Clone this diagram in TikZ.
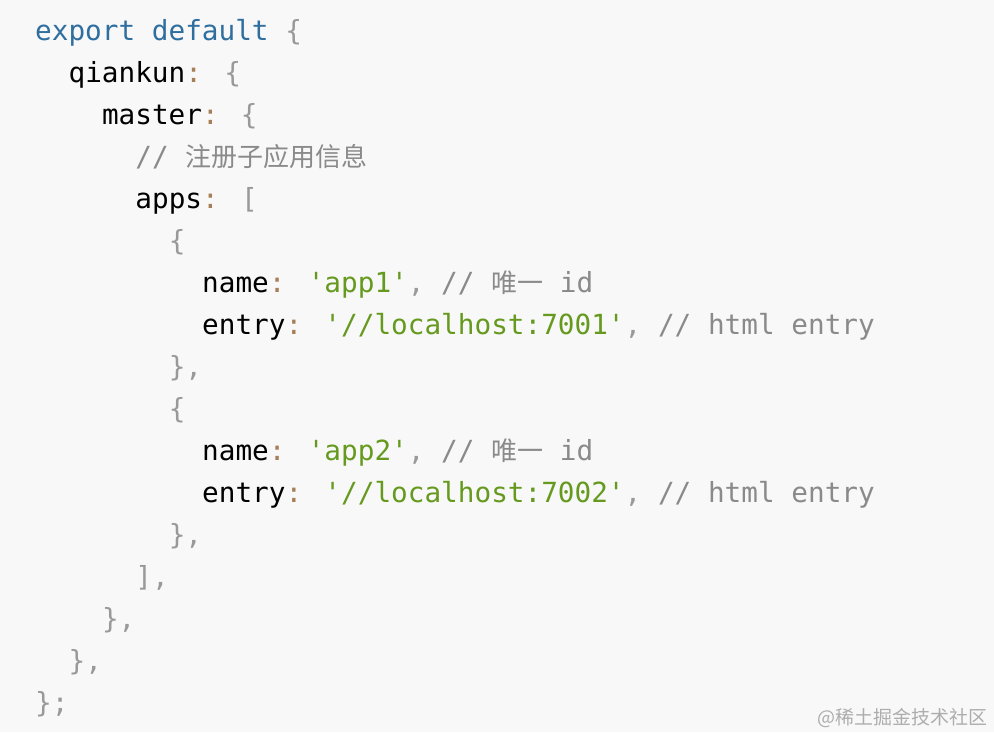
\documentclass[tikz,border=0pt]{standalone}
\usepackage{fontspec}
\newfontfamily\codefont{DejaVu Sans Mono}[Scale=1.0]
\newfontfamily\cjk{Noto Sans CJK SC}
\definecolor{codebg}{HTML}{F8F8F9}
\definecolor{kwblue}{HTML}{2F6F9F}
\definecolor{strgreen}{HTML}{669A1E}
\definecolor{punbrown}{HTML}{A67F59}
\definecolor{bragray}{HTML}{999999}
\definecolor{cmgray}{HTML}{8A8A8A}
\newcommand{\kw}[1]{\textcolor{kwblue}{#1}}
\newcommand{\qs}[1]{\textcolor{strgreen}{\char"27#1\char"27}}
\newcommand{\cl}{\textcolor{punbrown}{:}}
\newcommand{\bra}[1]{\textcolor{bragray}{#1}}
\newcommand{\cm}[1]{\textcolor{cmgray}{#1}}
\newcommand{\zh}[1]{{\cjk\fontsize{26}{26}\selectfont #1}}
\tikzset{codeline/.style={anchor=base west,inner sep=0pt,font=\codefont\fontsize{27.7}{30}\selectfont}}
\begin{document}
\begin{tikzpicture}[x=1pt,y=-1pt]
\fill[codebg] (0,0) rectangle (994,732);
\useasboundingbox (0,0) rectangle (994,732);
\node[codeline] (l1) at (35,40) {\kw{export default} \bra{\{}};
\node[codeline] (l2) at (68.4,82) {qiankun\cl{} \bra{\{}};
\node[codeline] (l3) at (101.8,124) {master\cl{} \bra{\{}};
\node[codeline] (l4) at (135.2,166) {\cm{// \zh{注册子应用信息}}};
\node[codeline] (l5) at (135.2,208) {apps\cl{} \bra{[}};
\node[codeline] (l6) at (168.6,250) {\bra{\{}};
\node[codeline] (l7) at (202,292) {name\cl{} \qs{app1}\bra{,} \cm{// \zh{唯一} id}};
\node[codeline] (l8) at (202,334) {entry\cl{} \qs{//localhost:7001}\bra{,} \cm{// html entry}};
\node[codeline] (l9) at (168.6,376) {\bra{\},}};
\node[codeline] (l10) at (168.6,418) {\bra{\{}};
\node[codeline] (l11) at (202,460) {name\cl{} \qs{app2}\bra{,} \cm{// \zh{唯一} id}};
\node[codeline] (l12) at (202,502) {entry\cl{} \qs{//localhost:7002}\bra{,} \cm{// html entry}};
\node[codeline] (l13) at (168.6,544) {\bra{\},}};
\node[codeline] (l14) at (135.2,586) {\bra{],}};
\node[codeline] (l15) at (101.8,628) {\bra{\},}};
\node[codeline] (l16) at (68.4,670) {\bra{\},}};
\node[codeline] (l17) at (35,712) {\bra{\};}};
% watermark
\node[anchor=base east,inner sep=0pt,text=bragray!80,font=\cjk\fontsize{19}{19}\selectfont] (mark) at (988,724) {@稀土掘金技术社区};
\end{tikzpicture}
\end{document}
